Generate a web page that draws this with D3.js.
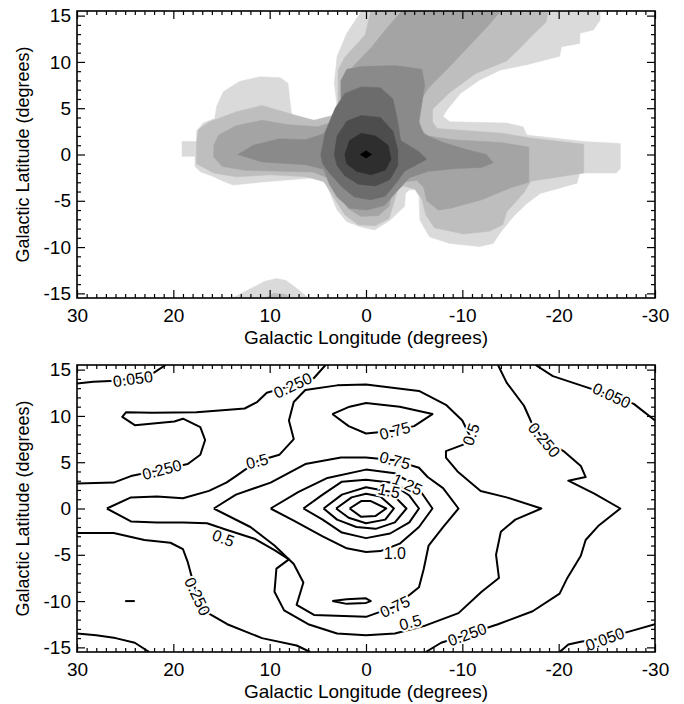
<!DOCTYPE html>
<html>
<head>
<meta charset="utf-8">
<script src="https://cdn.jsdelivr.net/npm/d3@7"></script>
<style>
  body { margin: 0; background: #fff; }
  svg { display: block; font-family: "Liberation Sans", Arial, Helvetica, sans-serif; }
</style>
</head>
<body>
<div id="chart"></div>
<script>
// axis ticks
var lonTicks = [30, 20, 10, 0, -10, -20, -30];
var latTicks = [-15, -10, -5, 0, 5, 10, 15];

// top panel: filled contour levels, outermost first [lon, lat]
var shadeColors = ['#dadada', '#bebebe', '#a4a4a4', '#8a8a8a', '#6c6c6c', '#4d4d4d', '#2e2e2e', '#000000'];

var shade1 = [
  [[0.45,15.5],[2.0,13.1],[3.0,10.6],[3.3,7.7],[3.0,5.2],[3.6,4.1],[4.8,3.4],[6.85,3.4],[7.7,4.1],[7.9,5.9],[8.1,7.7],[8.9,8.3],[11.0,8.4],[13.1,7.9],[14.8,6.8],[15.5,5.2],[15.7,3.9],[16.9,3.4],[17.6,2.5],[17.6,1.4],[19.1,1.4],[19.1,-0.2],[17.75,-0.2],[17.75,-1.3],[17.2,-1.85],[15.8,-2.4],[14.8,-2.9],[13.8,-3.3],[11.0,-3.0],[7.5,-2.7],[5.5,-2.5],[4.1,-3.1],[3.6,-4.5],[3.0,-6.0],[2.0,-7.25],[0.6,-7.8],[-0.9,-8.15],[-2.5,-7.1],[-4.0,-5.6],[-4.1,-4.2],[-4.5,-3.8],[-5.1,-3.8],[-5.5,-4.5],[-5.6,-7.1],[-6.6,-8.9],[-8.7,-9.6],[-11.8,-9.95],[-13.2,-9.6],[-13.9,-8.5],[-15.3,-6.7],[-16.7,-5.3],[-18.1,-4.2],[-21.9,-3.1],[-22.2,-2.0],[-26.0,-2.0],[-26.4,-1.5],[-26.4,1.2],[-22.6,1.4],[-16.7,2.1],[-16.3,3.0],[-14.6,3.4],[-8.7,3.55],[-8.0,4.1],[-8.4,4.8],[-9.8,6.6],[-11.8,8.05],[-13.9,9.1],[-16.7,9.7],[-20.1,10.6],[-20.3,11.65],[-22.2,12.0],[-22.2,13.1],[-23.6,13.45],[-24.3,14.5],[-24.3,15.5]],
  [[13.9,-15.5],[12,-14.5],[10.5,-13.7],[9.3,-13.4],[8.3,-13.6],[7,-14.6],[6,-15.5]]
];
var shade2 = [
  [[-0.5,15.5],[0.1,12.9],[2.2,10.5],[2.9,9.1],[2.9,5.6],[3.5,4.2],[5.4,3.7],[7.2,4.2],[10.8,5.3],[13.5,4.6],[16.3,3.5],[17.4,2.7],[17.6,1.1],[17.6,-1.0],[15.8,-2.0],[13.5,-2.4],[9.9,-2.2],[6.3,-2.4],[4.4,-2.9],[3.5,-4.4],[2.2,-6.5],[0.8,-7.6],[-1,-7.7],[-2.4,-6.9],[-3.0,-4.8],[-3.3,-3.75],[-3.9,-3.4],[-5.1,-3.75],[-5.8,-4.8],[-6.2,-6.5],[-7.1,-7.9],[-10.1,-8.6],[-12.8,-8.3],[-14.2,-7.6],[-14.6,-6.2],[-16.4,-4.1],[-17.1,-2.9],[-22.6,-2.0],[-22.6,1.1],[-16.9,1.8],[-14.2,2.3],[-7.4,2.8],[-6.9,3.5],[-6.9,4.9],[-8.7,6.7],[-11.4,8.75],[-14.6,10.1],[-16.0,11.5],[-17.3,12.9],[-18.7,14.3],[-18.9,15.5]],
  [[10.5,-15.5],[9.6,-15.0],[8.4,-15.1],[7.8,-15.5]]
];
var shade3 = [
  [[-3.7,15.5],[-1.9,13.3],[-0.5,11.5],[0.8,10.1],[1.7,9.1],[2.2,7.0],[2.4,5.5],[3.5,3.5],[5,3.0],[8,3.2],[10.8,3.7],[13.5,3.1],[15.3,2.1],[15.8,1.0],[15.8,-0.3],[14.9,-1.3],[12.6,-1.7],[9.0,-1.8],[5.5,-1.9],[3.8,-2.6],[3.0,-4.0],[1.9,-5.8],[0.5,-6.7],[-1.3,-6.6],[-2.4,-5.6],[-2.8,-3.8],[-3.4,-3.0],[-5.3,-2.8],[-6.0,-3.6],[-6.3,-5.0],[-7.5,-6.0],[-8.8,-5.8],[-12.0,-4.9],[-15.0,-3.6],[-16.9,-3.0],[-16.9,0.8],[-14.0,1.3],[-9,1.6],[-6.5,2.0],[-5.3,3.0],[-5.3,5.2],[-6.5,7.2],[-8.5,9.3],[-10.5,11.5],[-12.5,13.7],[-14.0,15.5]]
];
var shade4 = [
  [[13.3,0],[11.7,1.0],[9,1.7],[6.3,1.6],[4.5,2.2],[3.2,3.5],[2.6,5.5],[2.6,8.0],[2.0,9.2],[0.4,9.5],[-3,9.6],[-5.8,9.2],[-6.1,7.5],[-5.8,5.5],[-5.5,3.5],[-6,2.2],[-8,1.3],[-10.5,0.5],[-12.5,0],[-13.2,-0.9],[-12,-1.4],[-9.5,-1.5],[-6.5,-1.8],[-4.5,-2.5],[-3.2,-4.0],[-1.9,-5.5],[-0.1,-6.0],[1.7,-5.8],[3.0,-4.6],[3.8,-3.2],[4.4,-1.6],[6.3,-1.1],[10.8,-0.8]]
];
var shade5 = [
  [[4.7,0],[4.2,2.5],[3.2,5.0],[2.2,6.6],[0.5,7.3],[-1.5,7.2],[-2.8,6.0],[-3.3,3.5],[-3.6,1.5],[-5.5,0.3],[-6.3,-0.5],[-4,-1.8],[-3.2,-3],[-2,-4.5],[-0.5,-4.9],[1.2,-4.6],[2.5,-3.5],[3.8,-2],[4.5,-1]]
];
var shade6 = [
  [[3.3,0],[3.0,2.0],[2.0,3.6],[0.5,4.2],[-1.5,4.0],[-2.8,2.5],[-3.3,0.5],[-3.3,-1.2],[-2.5,-2.7],[-1.0,-3.4],[0.8,-3.2],[2.2,-2.3],[3.0,-1.2]]
];
var shade7 = [
  [[2.2,0],[1.7,1.5],[0.5,2.3],[-1.0,2.0],[-2.3,1.0],[-2.6,-0.5],[-2.0,-1.7],[-0.5,-2.2],[1.0,-1.8],[2.0,-1.0]]
];
var shade8 = [
  [[0.6,0],[0,0.4],[-0.6,0],[0,-0.4]]
];
var shades = [shade1, shade2, shade3, shade4, shade5, shade6, shade7, shade8];

// bottom panel: contour lines [lon, lat]
var line050 = [
  [[30,13.5],[28.3,13.7],[26,13.8],[22.4,14.4],[20.8,15.5]],
  [[-17.6,15.5],[-19.4,14.3],[-22.3,13.3],[-25.5,12.2],[-27.8,11.3],[-30,9.5]],
  [[30,-13.5],[28,-13.7],[26,-14.0],[24,-14.5],[22.5,-15.5]],
  [[-20.1,-15.5],[-21,-14.7],[-22.3,-14.4],[-24.8,-14.0],[-27.3,-13.3],[-30,-12.5]]
];
var line250 = [
  [[30,2.7],[26.2,2.8],[24.4,3.5],[21.2,4.2],[18.5,4.8],[17.2,5.8],[16.7,7.4],[17.2,8.8],[19,9.7],[19.9,9.4],[24,9.0],[25.3,9.9],[24.9,10.4],[22.2,10.35],[17.6,10.4],[14.9,10.6],[12.6,10.8],[11.3,11.5],[10.3,12.5],[7.6,13.3],[5.4,14.1],[4.2,15.5]],
  [[30,-2.65],[26.2,-2.65],[23,-3.4],[20.3,-3.7],[19,-4.4],[18.5,-5.8],[17.8,-8.5],[16.7,-11.1],[14.4,-12.5],[10.8,-14],[7.2,-14.8],[5.8,-15.5]],
  [[-13.7,15.5],[-14.6,13.6],[-16.4,11.1],[-17.3,9.0],[-18.5,7.4],[-20.5,6.2],[-22.3,4.6],[-22.8,3.4],[-21,3.0],[-23.7,1.6],[-26.4,0],[-24.1,-1.9],[-22.8,-3.4],[-22.3,-5.1],[-20.9,-7.5],[-20.1,-9.2],[-17.3,-11.1],[-13.7,-12.5],[-10.5,-13.6],[-7.8,-14.5],[-6.2,-15.5]]
];
var line500 = [
  [[26.9,0],[24.4,1.2],[21.7,1.3],[19,1.1],[16.3,1.9],[14.5,2.8],[13.5,3.5],[11.3,5.1],[9,5.8],[7.5,7.5],[8,9.5],[7.5,11.5],[6.3,12.8],[3,13.3],[0,13.4],[-5.5,12.7],[-8.3,11.2],[-10,9.5],[-10.8,7.8],[-10.1,6.9],[-8.3,6.2],[-8.3,5.5],[-9.5,4.0],[-11.9,1.9],[-14.6,1.2],[-18.2,0],[-15.5,-1.2],[-14,-2.5],[-13.5,-5],[-13.8,-7.5],[-12,-9],[-9.6,-11.3],[-6,-12.7],[-3,-13.5],[0,-13.7],[3,-13.5],[6,-12.5],[8.5,-11],[9.5,-9],[9.3,-6.5],[8,-5.5],[9.5,-4.5],[11.5,-3.3],[14.5,-2.3],[16.5,-1.6],[19,-1.5],[21.7,-1.5],[24.4,-1.4],[26.9,0]]
];
var line750 = [
  [[3.5,10.2],[1.7,11.0],[0,11.4],[-3.5,11.0],[-6.9,10.2],[-5,8.9],[-2.9,8.4],[0,8.1],[1.8,8.9],[3.5,10.2]],
  [[15.8,0],[13.5,1.5],[9.9,2.8],[6.3,4.8],[2.6,5.5],[0,5.5],[-3.0,5.2],[-5.5,4.4],[-6.4,3.4],[-8,2.2],[-9.6,0],[-8,-2],[-6.5,-4],[-6,-6.5],[-5.5,-8.5],[-3,-10.6],[0,-11.7],[5.4,-11.5],[7.2,-10.4],[6.5,-8],[7.5,-6],[9.5,-4],[12,-2],[15.8,0]]
];
var line1000 = [
  [[9.9,0],[7,1.8],[4,3.3],[0,4.2],[-3,3.8],[-5.3,2.4],[-6.9,0],[-5.5,-2],[-3.5,-3.8],[-1.5,-4.6],[0,-4.7],[2,-4.3],[4.5,-3],[7.5,-1.3],[9.9,0]],
  [[3.5,-10],[2,-9.8],[0,-9.7],[-0.5,-10],[0,-10.2],[2,-10.3],[3.5,-10]],
  [[25,-10],[24,-10]]
];
var line1250 = [[[6.5,0],[4.5,1.5],[2.5,2.9],[0,3.1],[-2.5,2.8],[-4.5,1.4],[-5.5,0],[-4.5,-1.5],[-2.5,-2.7],[0,-3.2],[2.5,-2.6],[4.5,-1.2],[6.5,0]]];
var line1500 = [[[4.4,0],[2.5,1.5],[0,2.3],[-2.5,1.8],[-4.2,0],[-3,-1.5],[-1,-2.2],[1,-2.0],[3,-1.2],[4.4,0]]];
var line1750 = [[[3.1,0],[1.5,1.2],[0,1.6],[-1.5,1.3],[-2.9,0],[-2,-1.2],[0,-1.6],[1.8,-1.0],[3.1,0]]];
var line2000 = [[[1.7,0],[0.5,0.8],[-0.5,0.8],[-2.1,0],[-1,-0.8],[0.5,-0.9],[1.7,0]]];
var contourLines = [line050, line250, line500, line750, line1000, line1250, line1500, line1750, line2000];

// contour labels: text, lon, lat, rotation
var labelText = ['0.050', '0.050', '0.050', '0.250', '0.250', '0.250', '0.250', '0.250', '0.5', '0.5', '0.5', '0.5', '0.75', '0.75', '0.75', '1.0', '1.25', '1.5'];
var labelLon = [24.2, -25.5, -24.8, 21.2, 7.6, 17.5, -18.5, -10.5, 11.3, 14.8, -10.9, -4.6, -3, -3, -3, -3, -4.3, -2.4];
var labelLat = [14.0, 12.2, -14.1, 4.2, 13.3, -9.5, 7.4, -13.6, 5.1, -3.2, 8.0, -12.3, 8.4, 5.2, -10.6, -4.8, 2.6, 1.9];
var labelAngle = [-8, 25, -20, -15, -25, 65, 50, -20, -15, 20, -70, -15, -15, 15, -25, 0, 25, 12];

var W = 684, H = 704;
var left = 77, right = 655;
var panels = [{top: 11, bottom: 298}, {top: 365, bottom: 652}];

var svg = d3.select('#chart').append('svg')
  .attr('width', W)
  .attr('height', H);

svg.append('rect').attr('width', W).attr('height', H).attr('fill', '#fff');

var x = d3.scaleLinear().domain([30, -30]).range([left, right]);

function makeY(p) {
  return d3.scaleLinear().domain([-15.5, 15.5]).range([p.bottom, p.top]);
}

function drawFrame(g, y, p) {
  var fmt = function(d) { return String(d); };
  var minorLon = d3.range(-30, 31).filter(function(d) { return d % 10 !== 0; });
  var minorLat = d3.range(-15, 16).filter(function(d) { return d % 5 !== 0; });

  var axes = [
    [d3.axisBottom(x).tickValues(lonTicks).tickSize(-8).tickPadding(11).tickFormat(fmt), 'translate(0,' + p.bottom + ')'],
    [d3.axisBottom(x).tickValues(minorLon).tickSize(-4).tickFormat(''), 'translate(0,' + p.bottom + ')'],
    [d3.axisTop(x).tickValues(lonTicks).tickSize(-8).tickFormat(''), 'translate(0,' + p.top + ')'],
    [d3.axisTop(x).tickValues(minorLon).tickSize(-4).tickFormat(''), 'translate(0,' + p.top + ')'],
    [d3.axisLeft(y).tickValues(latTicks).tickSize(-8).tickPadding(6).tickFormat(fmt), 'translate(' + left + ',0)'],
    [d3.axisLeft(y).tickValues(minorLat).tickSize(-4).tickFormat(''), 'translate(' + left + ',0)'],
    [d3.axisRight(y).tickValues(latTicks).tickSize(-8).tickFormat(''), 'translate(' + right + ',0)'],
    [d3.axisRight(y).tickValues(minorLat).tickSize(-4).tickFormat(''), 'translate(' + right + ',0)']
  ];

  axes.forEach(function(a) {
    var ag = g.append('g').attr('transform', a[1]).call(a[0]);
    ag.select('.domain').remove();
    ag.selectAll('line').attr('stroke', '#000').attr('stroke-width', 1.2);
    ag.selectAll('text')
      .attr('fill', '#000')
      .style('font-size', '19px')
      .style('font-family', '"Liberation Sans", Arial, sans-serif');
  });

  g.append('rect')
    .attr('x', left).attr('y', p.top)
    .attr('width', right - left).attr('height', p.bottom - p.top)
    .attr('fill', 'none').attr('stroke', '#000').attr('stroke-width', 1.6);

  g.append('text')
    .attr('x', (left + right) / 2).attr('y', p.bottom + 46)
    .attr('text-anchor', 'middle')
    .style('font-size', '19px')
    .text('Galactic Longitude (degrees)');

  g.append('text')
    .attr('transform', 'translate(29,' + ((p.top + p.bottom) / 2) + ') rotate(-90)')
    .attr('text-anchor', 'middle')
    .style('font-size', '18px')
    .text('Galactic Latitude (degrees)');
}

// ---- top panel: filled contours
(function() {
  var p = panels[0], y = makeY(p);
  var g = svg.append('g');
  g.append('clipPath').attr('id', 'clip0')
    .append('rect').attr('x', left).attr('y', p.top)
    .attr('width', right - left).attr('height', p.bottom - p.top);

  var area = d3.line().x(function(d) { return x(d[0]); }).y(function(d) { return y(d[1]); });
  var fills = g.append('g').attr('clip-path', 'url(#clip0)');

  shades.forEach(function(level, i) {
    fills.selectAll(null)
      .data(level)
      .join('path')
      .attr('d', function(d) { return area(d) + 'Z'; })
      .attr('fill', shadeColors[i])
      .attr('stroke', shadeColors[i])
      .attr('stroke-width', 0.5);
  });

  drawFrame(g, y, p);
})();

// ---- bottom panel: contour lines with labels
(function() {
  var p = panels[1], y = makeY(p);
  var g = svg.append('g');
  g.append('clipPath').attr('id', 'clip1')
    .append('rect').attr('x', left).attr('y', p.top)
    .attr('width', right - left).attr('height', p.bottom - p.top);

  var line = d3.line().x(function(d) { return x(d[0]); }).y(function(d) { return y(d[1]); });
  var lines = g.append('g').attr('clip-path', 'url(#clip1)');

  contourLines.forEach(function(level) {
    lines.selectAll(null)
      .data(level)
      .join('path')
      .attr('d', line)
      .attr('fill', 'none')
      .attr('stroke', '#000')
      .attr('stroke-width', 2)
      .attr('stroke-linejoin', 'round');
  });

  lines.selectAll('text.clabel')
    .data(labelText)
    .join('text')
    .attr('class', 'clabel')
    .attr('transform', function(d, i) {
      return 'translate(' + x(labelLon[i]) + ',' + y(labelLat[i]) + ') rotate(' + labelAngle[i] + ')';
    })
    .attr('text-anchor', 'middle')
    .attr('dy', '0.35em')
    .style('font-size', '16px')
    .style('paint-order', 'stroke')
    .attr('stroke', '#fff')
    .attr('stroke-width', 4)
    .attr('fill', '#000')
    .text(function(d) { return d; });

  drawFrame(g, y, p);
})();
</script>
</body>
</html>
